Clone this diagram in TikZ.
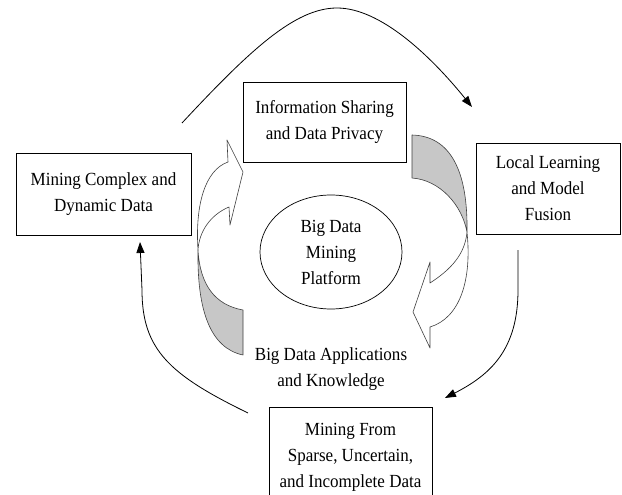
\documentclass[tikz,border=0pt]{standalone}
\usepackage{fontspec}
\setmainfont{Liberation Serif}[FakeStretch=0.92]
\usetikzlibrary{arrows.meta, positioning, shapes.geometric}

\begin{document}
\begin{tikzpicture}[
    x=1pt, y=-1pt,
    font=\fontsize{18.5}{26}\selectfont,
    blk/.style = {draw, line width=0.8pt, align=center, inner sep=0pt},
    plat/.style = {shape=ellipse, draw, line width=0.7pt, align=center,
                minimum width=142pt, minimum height=114pt, inner sep=0pt},
    flow/.style = {line width=0.8pt, -{Triangle[length=11pt,width=8pt]}},
    ribbon/.style = {draw=black!75, line width=0.6pt, line join=round}
                    ]
\clip (0,0) rectangle (622,495);

\node (n1) [blk, minimum width=175pt, minimum height=82pt] at (103.5,194) {Mining Complex and\\ Dynamic Data};
\node (n2) [blk, minimum width=163pt, minimum height=80pt] at (324.5,122) {Information Sharing\\ and Data Privacy};
\node (n3) [blk, minimum width=144pt, minimum height=91pt] at (548,188.5) {Local Learning\\ and Model\\ Fusion};
\node (n4) [blk, minimum width=163pt, minimum height=100pt, anchor=north] at (350.5,407) {Mining From\\ Sparse, Uncertain,\\ and Incomplete Data};
\node (n5) [plat] at (331,252) {Big Data\\ Mining\\ Platform};
\node (n6) [align=center] at (331,369) {Big Data Applications\\ and Knowledge};

% twisted ribbon on the right, back side shaded
\filldraw[ribbon, fill=black!22] (412,135) .. controls (450,136) and (468,170) .. (467,232)
    .. controls (462,205) and (440,180) .. (412,178) -- cycle;
\filldraw[ribbon, fill=white] (467,232) .. controls (472,280) and (460,318) .. (430,327)
    -- (430,348) -- (413,312) -- (430,262) -- (430,283)
    .. controls (450,270) and (465,255) .. (467,232) -- cycle;

% twisted ribbon on the left
\filldraw[ribbon, fill=black!22] (243,310) .. controls (215,305) and (200,285) .. (198,250)
    .. controls (197,310) and (210,348) .. (243,355) -- cycle;
\filldraw[ribbon, fill=white] (198,250) .. controls (195,205) and (205,170) .. (228,162)
    -- (227,140) -- (243,172) -- (230,225) -- (229,207)
    .. controls (210,215) and (199,232) .. (198,250) -- cycle;

% outer loop
\coordinate (a1) at (182,123);
\coordinate (a2) at (472,107);
\coordinate (a3) at (518,250);
\coordinate (a4) at (445,398);
\coordinate (a5) at (248,413);
\coordinate (a6) at (140,242);
\draw[flow] (a1) .. controls (250,50) and (295,8) .. (337,8)
    .. controls (380,8) and (430,55) .. (a2);
\draw[flow] (a3) -- (518,290) .. controls (518,350) and (490,375) .. (a4);
\draw[flow] (a5) .. controls (170,375) and (142,350) .. (142,290) -- (a6);

\end{tikzpicture}
\end{document}
